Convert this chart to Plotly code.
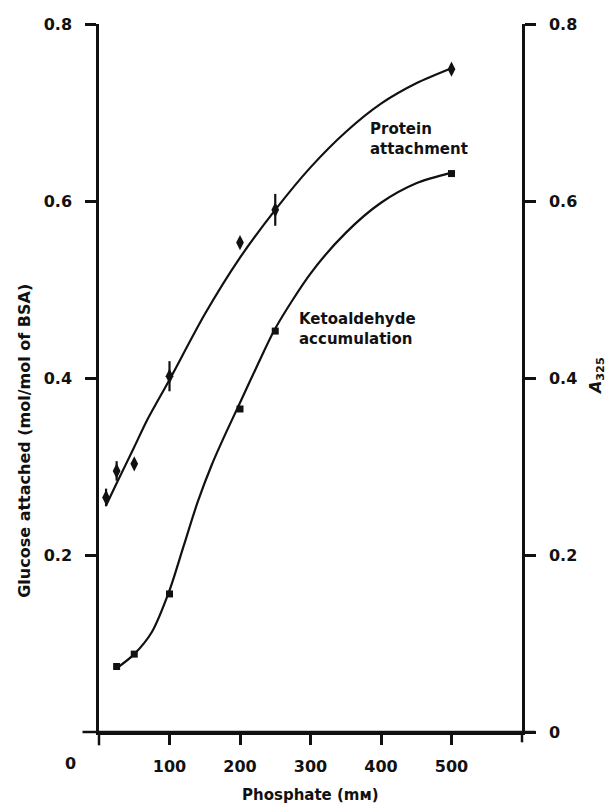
import plotly.graph_objects as go

# Phosphate concentration (mM) for the measured points
protein_x = [10, 25, 50, 100, 200, 250, 500]
protein_y = [0.265, 0.295, 0.303, 0.402, 0.553, 0.590, 0.749]
protein_err = [0.010, 0.011, 0.0, 0.017, 0.0, 0.018, 0.005]

keto_x = [25, 50, 100, 200, 250, 500]
keto_y = [0.074, 0.088, 0.156, 0.365, 0.453, 0.631]

# Hand-drawn fitted curves, read along their length
protein_curve_x = [10, 25, 50, 68, 100, 150, 200, 250, 300, 350, 400, 450, 500]
protein_curve_y = [0.256, 0.281, 0.322, 0.352, 0.398, 0.472, 0.536, 0.590, 0.638, 0.678, 0.710, 0.733, 0.750]

keto_curve_x = [25, 50, 75, 100, 120, 140, 160, 180, 200, 225, 250, 300, 350, 400, 450, 500]
keto_curve_y = [0.072, 0.088, 0.113, 0.160, 0.210, 0.260, 0.302, 0.338, 0.372, 0.415, 0.456, 0.518, 0.564, 0.598, 0.620, 0.632]

x_ticks = [100, 200, 300, 400, 500]
left_ticks = [0.2, 0.4, 0.6, 0.8]
right_ticks = [0, 0.2, 0.4, 0.6, 0.8]

W, H = 610, 804
L, R, T, B = 98.5, 88, 24, 72.3
PW, PH = W - L - R, H - T - B

def px(xp):
    return (xp - L) / PW

def py(yp):
    return (H - B - yp) / PH

FONT = "DejaVu Sans"
INK = "#111111"

fig = go.Figure()

fig.add_trace(go.Scatter(x=protein_curve_x, y=protein_curve_y, mode="lines",
                         line=dict(color=INK, width=2.2, shape="spline", smoothing=0.8),
                         hoverinfo="skip", showlegend=False))
fig.add_trace(go.Scatter(x=protein_x, y=protein_y, mode="markers",
                         marker=dict(symbol="diamond-tall", size=11, color=INK),
                         error_y=dict(type="data", array=protein_err, color=INK, thickness=2.2, width=0),
                         showlegend=False))

fig.add_trace(go.Scatter(x=keto_curve_x, y=keto_curve_y, mode="lines", yaxis="y2",
                         line=dict(color=INK, width=2.2, shape="spline", smoothing=0.8),
                         hoverinfo="skip", showlegend=False))
fig.add_trace(go.Scatter(x=keto_x, y=keto_y, mode="markers", yaxis="y2",
                         marker=dict(symbol="square", size=7, color=INK),
                         showlegend=False))

axis_font = dict(family=FONT, size=16, color=INK, weight="bold")
title_font = dict(family=FONT, size=15, color=INK, weight="bold")

common_axis = dict(showline=True, linecolor=INK, linewidth=2.5,
                   ticks="outside", tickwidth=2.5, tickcolor=INK,
                   tickfont=axis_font, showgrid=False, zeroline=False)

fig.update_layout(
    width=W, height=H,
    margin=dict(l=L, r=R, t=T, b=B, pad=0),
    paper_bgcolor="white", plot_bgcolor="white",
    font=dict(family=FONT, color=INK),
    xaxis=dict(range=[0, 600], tickvals=x_ticks, ticktext=[str(v) for v in x_ticks],
               ticklen=10, ticklabelstandoff=8, **common_axis),
    yaxis=dict(range=[0, 0.8], tickvals=left_ticks, ticktext=["0.2", "0.4", "0.6", "0.8"],
               ticklen=11, ticklabelstandoff=10, **common_axis),
    yaxis2=dict(range=[0, 0.8], overlaying="y", side="right",
                tickvals=right_ticks, ticktext=["0", "0.2", "0.4", "0.6", "0.8"],
                ticklen=11, ticklabelstandoff=10, **common_axis),
)

# Axis line overhangs past the corners
line = dict(color=INK, width=2.5)
fig.add_shape(type="line", xref="paper", yref="paper",
              x0=px(82), x1=px(535), y0=py(731.7), y1=py(731.7), line=line)
fig.add_shape(type="line", xref="paper", yref="paper",
              x0=px(98.5), x1=px(98.5), y0=py(731.7), y1=py(745), line=line)
fig.add_shape(type="line", xref="paper", yref="paper",
              x0=px(522), x1=px(522), y0=py(731.7), y1=py(742), line=line)

ann = []
ann.append(dict(text="0", x=px(70), y=py(763), xref="paper", yref="paper",
                showarrow=False, font=axis_font, xanchor="center", yanchor="middle"))
ann.append(dict(text="Phosphate (mᴍ)", x=px(310), y=py(795), xref="paper", yref="paper",
                showarrow=False, font=title_font, xanchor="center", yanchor="middle"))
ann.append(dict(text="Glucose attached (mol/mol of BSA)", x=px(24), y=py(441),
                xref="paper", yref="paper", textangle=-90, showarrow=False,
                font=dict(family=FONT, size=16, color=INK, weight="bold"),
                xanchor="center", yanchor="middle"))
ann.append(dict(text="<i>A</i><sub>325</sub>", x=px(596), y=py(376),
                xref="paper", yref="paper", textangle=-90, showarrow=False,
                font=dict(family=FONT, size=16, color=INK, weight="bold"),
                xanchor="center", yanchor="middle"))
ann.append(dict(text="Protein<br>attachment", x=px(368), y=py(139), xref="paper", yref="paper",
                showarrow=False, align="left", xanchor="left", yanchor="middle",
                font=title_font))
ann.append(dict(text="Ketoaldehyde<br>accumulation", x=px(297), y=py(329), xref="paper", yref="paper",
                showarrow=False, align="left", xanchor="left", yanchor="middle",
                font=title_font))
fig.update_layout(annotations=ann)

fig.write_html("out.html")
